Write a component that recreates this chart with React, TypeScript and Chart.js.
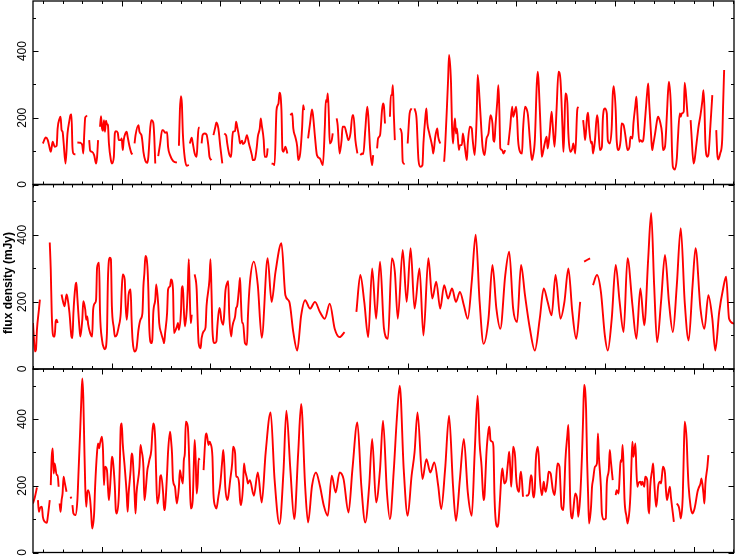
import React, { useEffect, useRef } from "react";
import { Chart, registerables } from "chart.js";
Chart.register(...registerables);

// time unit: 1/20 day; each panel spans 711 units; y in mJy
const X_SPAN = 711;
const Y_MAX = 550;
const Y_TICKS = [0, 100, 200, 300, 400, 500];
const Y_LABELS = [0, 200, 400];
const Y_TITLE = "flux density (mJy)";

type P = [number, number | null];

const panel1: P[] = [
[10,123],[13,141],[15,133],[17,108],[18,98],[19,113],[20,128],[22,113],[24,116],[25,168],[27,198],[28,203],[29,163],[30,158],[31,128],[33,63],[35,153],[37,193],[38,208],[39,210],[40,113],[41,93],[43,90],[44,null],
[45,126],[48,125],[50,118],[51,93],[52,153],[53,201],[55,206],[56,null],
[57,133],[58,101],[60,98],[62,88],[64,63],[65,83],[66,133],[67,null],
[68,173],[69,205],[70,168],[71,161],[72,193],[73,158],[74,191],[75,181],[76,178],[77,123],[79,73],[80,63],[82,83],[83,153],[84,160],[86,155],[87,133],[89,133],[90,138],[91,103],[92,133],[94,155],[95,158],[96,143],[98,113],[100,93],[101,91],[102,null],
[103,123],[104,148],[107,178],[108,158],[110,148],[111,128],[112,98],[114,71],[116,65],[117,83],[119,173],[120,193],[122,185],[123,143],[124,63],[125,null],
[127,85],[129,123],[131,163],[132,163],[134,155],[136,157],[137,113],[139,88],[142,71],[144,67],[146,66],[147,null],
[148,116],[149,223],[150,265],[151,243],[152,153],[154,78],[156,56],[158,59],[158.5,null],
[159,123],[161,140],[162,125],[164,93],[166,83],[167,133],[168,170],[169,170],[170,null],
[171,123],[172,148],[174,153],[176,150],[178,113],[179,83],[181,73],[182,null],
[183,148],[185,173],[186,186],[188,168],[190,113],[192,63],[193,null],
[194,153],[196,146],[197,123],[199,91],[201,83],[202,135],[203,158],[205,161],[206,188],[207,175],[209,143],[210,123],[212,131],[213,121],[215,128],[217,148],[219,123],[222,88],[223,73],[225,75],[227,113],[228,143],[230,168],[231,198],[232,178],[234,133],[235,83],[237,83],[238,108],[240,null],
[242,63],[244,61],[245,58],[247,223],[249,243],[250,275],[252,223],[253,103],[254,98],[256,113],[258,93],[259,null],
[261,208],[263,213],[264,168],[266,143],[268,113],[269,73],[271,93],[273,173],[274,238],[275,223],[277,null],
[279,138],[281,183],[283,225],[284,208],[286,143],[288,88],[291,78],[294,58],[296,173],[297,253],[298,248],[299,273],[300,213],[301,123],[303,133],[304,153],[306,null],
[308,198],[309,178],[311,93],[313,133],[314,173],[316,173],[318,153],[320,133],[322,153],[324,208],[325,208],[327,133],[329,93],[330,null],
[332,88],[334,93],[335,91],[337,163],[339,233],[340,208],[342,103],[344,58],[345,88],[347,null],
[349,108],[350,138],[352,148],[354,223],[355,243],[356,233],[357,183],[359,null],
[362,203],[363,268],[364,268],[365,298],[366,208],[367,133],[369,null],
[372,168],[374,153],[375,68],[377,61],[378,null],
[380,123],[382,213],[384,228],[385,null],
[387,228],[389,198],[391,73],[393,53],[395,58],[396,123],[398,203],[399,228],[400,183],[402,153],[405,113],[406,93],[408,143],[410,168],[411,143],[413,123],[415,null],
[417,68],[418,113],[420,243],[421,313],[422,388],[424,303],[425,173],[426,123],[427,168],[428,198],[429,153],[430,168],[432,103],[433,118],[435,118],[436,153],[438,113],[440,73],[441,123],[443,173],[445,168],[446,133],[448,88],[450,203],[451,328],[453,253],[455,153],[456,113],[458,88],[460,138],[462,153],[464,208],
[466,183],[467,133],[468,128],[469,173],[471,253],[472,298],[473,223],[474,108],[476,103],[477,93],[479,103],[480,null],
[482,118],[484,173],[486,233],[487,203],[489,223],[490,233],[491,198],[492,133],[494,98],[496,93],[497,163],[499,233],[501,223],[502,208],[504,133],[506,73],[507,83],[509,133],[511,303],[512,338],[513,298],[515,153],[516,83],[517,93],[519,123],[521,143],[522,108],[524,153],[526,218],[527,183],[529,113],[531,223],[533,338],[535,313],[537,173],[538,98],[539,173],[540,273],[542,243],[543,153],[545,98],[547,108],[548,123],[550,93],[552,223],[553,233],[555,null],
[558,193],[559,163],[560,133],[562,203],[563,215],[564,173],[566,123],[567,128],[568,93],[570,133],[572,208],[573,193],[575,103],[577,113],[578,198],[580,228],[582,213],[583,133],[585,123],[587,173],[588,268],[589,295],[591,223],[592,133],[594,103],[596,133],[597,183],[599,178],[601,143],[603,103],[605,113],[606,143],[608,138],[609,183],[611,238],[612,263],[613,213],[615,128],[616,133],[618,128],[619,133],[621,203],[623,278],[624,303],[625,243],[627,143],[628,103],[629,118],[631,153],[633,193],[634,203],[636,188],[638,153],[639,103],[641,113],[643,213],[644,273],[645,308],[647,233],[648,113],[649,53],[651,45],[653,78],[654,133],[656,213],[657,203],[658,213],[660,218],[661,305],[663,243],[664,203],[665,null],
[667,193],[668,143],[670,63],[671,73],[673,123],[675,173],[677,208],[679,253],[680,283],[681,233],[682,123],[684,83],[685,88],[687,173],[689,268],[691,null],
[693,163],[694,93],[695,75],[697,93],[699,133],[700,243],[701,343]
];

const panel2: P[] = [
[0,137],[1,87],[2,52],[3,57],[4,117],[6,177],[7,207],[8,null],
[17,377],[18,297],[19,167],[20,107],[21,97],[22,97],[23,142],[24,147],[25,137],[26,null],
[29,222],[30,207],[32,187],[34,222],[35,212],[37,167],[39,97],[40,92],[41,167],[43,247],[44,257],[45,212],[47,127],[48,97],[50,147],[51,202],[53,177],[54,147],[55,157],[56,132],[58,107],[60,97],[61,177],[63,197],[64,207],[65,302],[67,317],[68,167],[70,87],[72,62],[73,59],[75,107],[76,267],[78,332],[79,327],[80,187],[82,122],[83,97],[85,102],[87,127],[89,167],[90,237],[91,282],[93,267],[94,187],[95,147],[96,177],[97,222],[99,237],[100,147],[101,87],[103,52],[105,62],[107,117],[109,147],[111,167],[112,247],[113,287],[114,337],[116,307],[117,237],[118,117],[120,77],[121,87],[122,167],[124,207],[125,252],[127,192],[128,137],[130,107],[132,87],[133,77],[134,107],[136,167],[137,237],[139,247],[140,267],[142,237],[143,107],[144,112],[146,127],[147,137],[148,117],[150,167],[151,242],[152,247],[153,177],[154,127],[156,177],[157,242],[158,327],[159,222],[160,137],[161,162],[162,null],
[164,282],[166,237],[167,147],[168,77],[170,62],[171,92],[173,112],[175,124],[176,187],[179,267],[180,327],[181,237],[182,117],[184,77],[186,82],[187,127],[189,182],[190,172],[191,147],[193,132],[194,167],[195,227],[197,257],[198,262],[199,167],[201,97],[202,122],[203,137],[205,157],[206,182],[207,187],[209,242],[210,272],[211,197],[212,137],[213,137],[215,77],[217,72],[218,157],[220,257],
[224,320],[228,250],[232,93],[238,330],[242,200],[246,290],[252,375],[256,220],[260,200],[264,110],[268,55],[272,160],[276,205],[281,180],[286,200],[291,170],[296,150],[301,195],[306,120],[311,95],[316,110],[320,null],
[328,170],[332,280],[336,200],[340,95],[344,300],[348,150],[352,320],[356,120],[360,90],[364,330],[367,290],[370,150],[375,355],[379,200],[383,360],[387,180],[392,300],[396,100],[401,330],[405,210],[409,260],[413,180],[417,250],[421,210],[425,240],[429,200],[433,230],[437,190],[441,150],[445,260],[449,400],[453,200],[457,75],[462,150],[466,310],[470,180],[474,120],[479,280],[483,350],[487,180],[491,140],[495,310],[499,220],[504,120],[509,55],[514,150],[518,240],[522,200],[526,160],[530,280],[535,150],[539,200],[543,300],[547,170],[551,90],[555,200],[557,null],
[559,320],[565,330],[566,null],
[568,250],[572,280],[576,230],[580,100],[583,55],[587,150],[591,310],[595,200],[599,110],[603,330],[608,190],[612,90],[616,240],[620,130],[624,330],[627,465],[630,250],[633,80],[637,200],[641,340],[645,200],[649,110],[653,250],[657,420],[661,200],[665,85],[669,250],[672,360],[677,180],[681,120],[685,220],[689,150],[692,55],[696,170],[700,240],[703,275],[706,150],[711,135]
];

const panel3: P[] = [
[0,147],[2,167],[4,195],[4.5,null],[5,157],[6,122],[7,132],[9,137],[10,107],[12,92],[14,89],[15,107],[17,157],[17.5,null],
[18,202],[19,287],[20,312],[21,237],[22,267],[24,232],[25,232],[26,197],[26.5,null],
[27,147],[28,122],[29,157],[30,177],[31,227],[32,212],[34,182],[36,null],[38,167],[39,162],[39.5,null],
[40,142],[41,117],[43,112],[45,157],[46,227],[48,377],[49,457],[50,522],[51,467],[52,327],[53,197],[54,137],[55,177],[56,187],[58,157],[59,117],[60,72],[62,117],[63,197],[65,302],[66,327],[67,312],[68,327],[70,347],[71,307],[72,202],[73,257],[75,247],[76,197],[77,157],[79,237],[80,287],[81,277],[83,197],[84,127],[85,117],[87,167],[88,257],[89,377],[90,387],[91,327],[93,257],[95,177],[96,122],[97,177],[99,247],[100,297],[101,287],[103,177],[104,117],[105,177],[108,257],[109,322],[110,307],[112,257],[113,157],[114,177],[116,247],[117,262],[118,277],[120,307],[121,357],[122,387],[124,337],[125,227],[126,147],[128,177],[129,227],[130,232],[132,177],[133,127],[134,137],[136,237],[137,302],[139,362],[140,337],[141,297],[142,217],[144,197],[145,167],[146,147],[148,197],[149,247],[150,232],[152,207],[153,277],[154,297],[155,392],[157,377],[158,317],[159,217],[160,132],[162,157],[163,252],[164,337],[165,277],[166,177],[167,207],[168,282],[169,277],[171,null],
[173,247],[175,347],[176,357],[178,322],[179,332],[180,327],[182,287],[183,177],[185,137],[186,132],[188,167],[190,207],[192,277],[193,307],[194,267],[195,197],[197,157],[198,167],[200,217],[202,267],[203,317],[205,297],[206,227],[207,227],[209,207],[210,157],[211,142],[213,197],[214,267],[215,247],[217,222],[218,207],[220,217],
[224,170],[228,240],[232,150],[236,300],[241,420],[245,220],[250,85],[254,240],[257,425],[261,250],[265,100],[269,300],[272,445],[276,200],[279,90],[283,200],[287,240],[291,200],[295,140],[299,110],[303,230],[307,180],[311,240],[315,220],[320,120],[324,250],[329,390],[333,200],[337,90],[341,200],[344,340],[348,150],[352,250],[355,395],[359,180],[362,100],[366,250],[369,400],[372,500],[376,250],[380,110],[384,230],[387,300],[390,420],[395,220],[399,280],[403,240],[407,270],[411,200],[414,130],[418,250],[422,410],[426,200],[429,95],[433,220],[437,340],[441,180],[445,110],[448,300],[451,470],
[453,327],[455,257],[456,197],[457,157],[458,172],[459,237],[460,302],[462,367],[463,377],[464,337],[466,332],[467,317],[468,177],[469,107],[471,77],[472,87],[473,127],[474,177],[475,227],[476,252],[477,232],[478,207],[480,217],[481,247],[482,277],[483,302],[484,257],[485,197],[486,247],[487,317],[489,287],[490,227],[491,197],[493,182],[494,227],[495,242],[497,167],[498,null],
[500,172],[501,170],[503,177],[505,232],[506,222],[507,177],[508,165],[509,192],[510,277],[512,317],[513,287],[514,227],[516,172],[517,187],[518,212],[519,192],[520,182],[522,217],[523,242],[525,237],[526,217],[527,192],[529,172],[530,197],[532,267],[534,257],[535,197],[536,137],[538,127],[539,197],[540,277],[542,352],[543,382],[544,277],[545,147],[547,102],[548,127],[550,177],[552,157],[553,107],[555,167],[557,307],[558,407],[559,502],[561,427],[562,277],[563,177],[564,87],[566,137],[567,197],[568,217],[570,257],[572,267],[573,357],[574,287],[576,197],[577,117],[579,99],[581,102],[582,207],[584,247],[585,307],[586,277],[588,217],[589,null],
[591,172],[592,187],[594,177],[595,227],[596,277],[597,272],[598,322],[599,257],[600,157],[602,107],[603,87],[605,127],[606,177],[607,267],[608,332],[609,287],[611,327],[612,247],[613,197],[614,207],[616,212],[617,202],[618,212],[620,197],[621,227],[623,217],[624,137],[625,117],[626,197],[628,247],[629,267],[630,217],[632,137],[633,157],[634,197],[636,212],[637,207],[638,232],[639,257],[641,237],[642,187],[643,157],[645,187],[646,197],[647,167],[649,117],[650,92],[651,null],
[653,147],[655,137],[656,122],[657,102],[659,167],[660,287],[661,392],[663,337],[664,257],[665,197],[667,137],[668,122],[669,117],[671,132],[672,147],[674,182],[675,192],[677,207],[678,222],[680,177],[681,147],[682,207],[684,257],[685,292]
];

// first minor tick and first major tick per panel (units)
const TICK_PHASE = [10, 0, 10];
const MAJOR_PHASE = [90, 80, 70];

type PanelCfg = {
  data: P[];
  canvasTop: number;
  height: number;
  padTop: number;
  padBottom: number;
  phase: number;
  major: number;
  title: boolean;
};

const PANELS: PanelCfg[] = [
  { data: panel1, canvasTop: 0, height: 200, padTop: 1, padBottom: 15.5, phase: TICK_PHASE[0], major: MAJOR_PHASE[0], title: false },
  { data: panel2, canvasTop: 175, height: 210, padTop: 9.5, padBottom: 16, phase: TICK_PHASE[1], major: MAJOR_PHASE[1], title: true },
  { data: panel3, canvasTop: 360, height: 196, padTop: 9, padBottom: 3.5, phase: TICK_PHASE[2], major: MAJOR_PHASE[2], title: false },
];

function makePlugin(cfg: PanelCfg) {
  return {
    id: "frameTicks",
    afterDatasetsDraw(chart: any) {
      const { ctx, chartArea: a, scales } = chart;
      const x = scales.x, y = scales.y;
      ctx.save();
      ctx.strokeStyle = "#000";
      ctx.lineWidth = 1.3;
      ctx.strokeRect(a.left, a.top, a.right - a.left, a.bottom - a.top);
      ctx.beginPath();
      for (let t = cfg.phase; t <= X_SPAN; t += 20) {
        const px = Math.round(x.getPixelForValue(t)) + 0.5;
        const len = (t - cfg.major) % 100 === 0 ? 5.5 : 3;
        ctx.moveTo(px, a.bottom);
        ctx.lineTo(px, a.bottom - len);
        ctx.moveTo(px, a.top);
        ctx.lineTo(px, a.top + len);
      }
      for (const v of Y_TICKS) {
        const py = Math.round(y.getPixelForValue(v)) + 0.5;
        const len = v % 200 === 0 ? 5.5 : 3;
        ctx.moveTo(a.left, py);
        ctx.lineTo(a.left + len, py);
        ctx.moveTo(a.right, py);
        ctx.lineTo(a.right - len, py);
      }
      ctx.lineWidth = 1;
      ctx.stroke();
      ctx.fillStyle = "#000";
      ctx.font = '12px "Liberation Sans", Arial, Helvetica, sans-serif';
      ctx.textAlign = "center";
      ctx.textBaseline = "middle";
      for (const v of Y_LABELS) {
        const py = y.getPixelForValue(v);
        ctx.save();
        ctx.translate(22.5, py);
        ctx.rotate(-Math.PI / 2);
        ctx.fillText(String(v), 0, 0);
        ctx.restore();
      }
      if (cfg.title) {
        ctx.save();
        ctx.font = 'bold 12px "Liberation Sans", Arial, Helvetica, sans-serif';
        ctx.translate(8.5, 283 - cfg.canvasTop);
        ctx.rotate(-Math.PI / 2);
        ctx.fillText(Y_TITLE, 0, 0);
        ctx.restore();
      }
      ctx.restore();
    },
  };
}

function Panel({ cfg }: { cfg: PanelCfg }) {
  const ref = useRef<HTMLCanvasElement | null>(null);
  useEffect(() => {
    if (!ref.current) return;
    const chart = new Chart(ref.current, {
      type: "line",
      data: {
        datasets: [
          {
            data: cfg.data.map(([t, v]) => ({ x: t, y: v })) as any,
            borderColor: "#ff0000",
            borderWidth: 1.9,
            pointRadius: 0,
            cubicInterpolationMode: "monotone",
            spanGaps: false,
            fill: false,
          },
        ],
      },
      options: {
        animation: false,
        responsive: false,
        maintainAspectRatio: false,
        events: [],
        layout: { padding: { left: 33, right: 2, top: cfg.padTop, bottom: cfg.padBottom } },
        plugins: { legend: { display: false }, tooltip: { enabled: false } },
        scales: {
          x: { type: "linear", min: 0, max: X_SPAN, display: false },
          y: { type: "linear", min: 0, max: Y_MAX, display: false },
        },
      },
      plugins: [makePlugin(cfg)],
    });
    return () => chart.destroy();
  }, [cfg]);
  return (
    <canvas
      ref={ref}
      width={736}
      height={cfg.height}
      style={{ position: "absolute", left: 0, top: cfg.canvasTop, width: 736, height: cfg.height }}
    />
  );
}

export default function App() {
  return (
    <div style={{ position: "absolute", left: 0, top: 0, width: 736, height: 556, background: "#fff", overflow: "hidden" }}>
      {PANELS.map((p, i) => (
        <Panel key={i} cfg={p} />
      ))}
    </div>
  );
}
